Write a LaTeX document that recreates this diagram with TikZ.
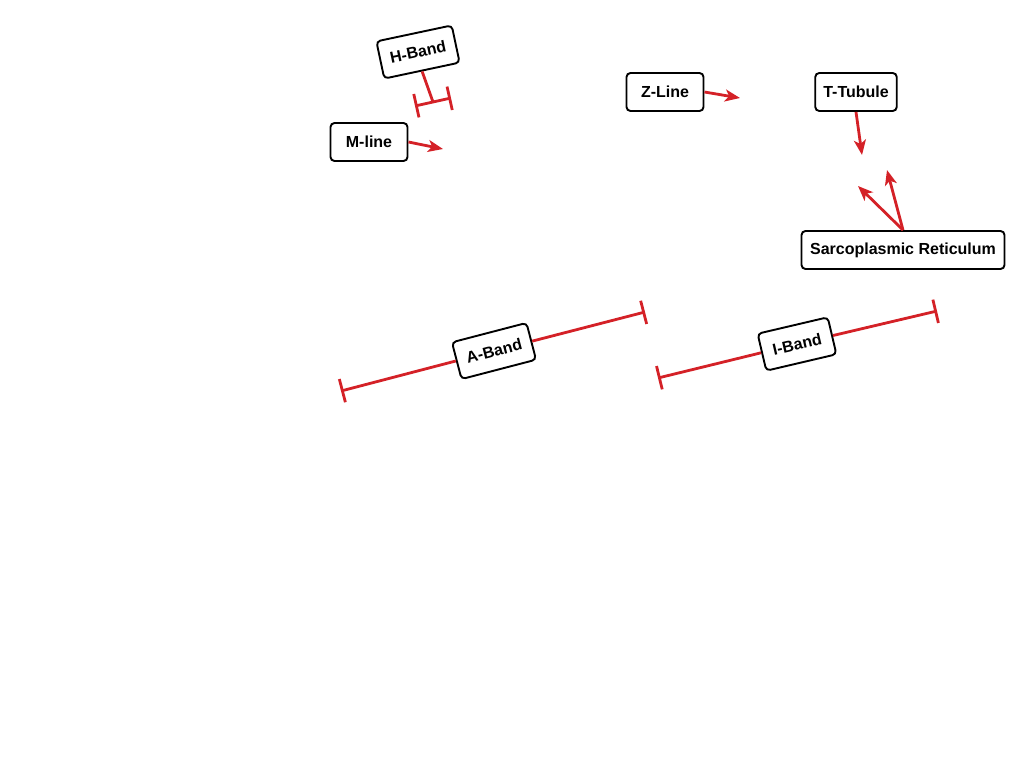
\documentclass[tikz,border=0pt]{standalone}
\usepackage{fontspec}
\setmainfont{Liberation Sans}
\usepackage[svgnames]{xcolor}
\usetikzlibrary{arrows.meta}
\definecolor{bandred}{RGB}{212,33,39}

\begin{document}
\begin{tikzpicture}[x=1pt, y=-1pt,
    label box/.style={draw=black, line width=1.9pt, rounded corners=4pt, fill=white,
        minimum width=77pt, minimum height=38pt, inner xsep=8pt,
        font=\fontsize{16}{18}\selectfont\bfseries},
    pointer/.style={bandred, line width=2.8pt, -{Stealth[length=15pt, width=12pt, inset=4pt]}},
    span/.style={bandred, line width=2.8pt}]
    \useasboundingbox (0,0) rectangle (1024,768);
    % labels
    \node[label box, rotate=12] (hband) at (418,52) {H-Band};
    \node[label box] (mline) at (369,142) {M-line};
    \node[label box] (zline) at (665,92) {Z-Line};
    \node[label box] (ttubule) at (856,92) {T-Tubule};
    \node[label box, minimum width=203pt] (sr) at (903,250) {Sarcoplasmic Reticulum};
    % pointers
    \coordinate (mTip) at (443,149);
    \coordinate (zTip) at (740,98);
    \coordinate (tTip) at (862,155);
    \coordinate (srTipA) at (858,186);
    \coordinate (srTipB) at (887,170);
    \draw[pointer] (mline.east) -- (mTip);
    \draw[pointer] (zline.east) -- (zTip);
    \draw[pointer] (ttubule.south) -- (tTip);
    \draw[pointer] (sr.north) -- (srTipA);
    \draw[pointer] (sr.north) -- (srTipB);
    % H-band span
    \coordinate (hL) at (415,106);
    \coordinate (hR) at (451,98);
    \coordinate (hMid) at (433,102);
    \draw[span, {Bar[width=24pt]}-{Bar[width=24pt]}] (hL) -- (hR);
    \draw[span] (hband.south) -- (hMid);
    % A-band and I-band spans
    \coordinate (aL) at (341,391);
    \coordinate (aR) at (645,312);
    \coordinate (iL) at (658,378);
    \coordinate (iR) at (937,311);
    \node[label box, rotate=14.6] (aband) at (494,351) {A-Band};
    \node[label box, rotate=13.2, minimum width=72pt] (iband) at (797,344) {I-Band};
    \draw[span, {Bar[width=24pt]}-] (aL) -- (aband);
    \draw[span, -{Bar[width=24pt]}] (aband) -- (aR);
    \draw[span, {Bar[width=24pt]}-] (iL) -- (iband);
    \draw[span, -{Bar[width=24pt]}] (iband) -- (iR);
\end{tikzpicture}
\end{document}
